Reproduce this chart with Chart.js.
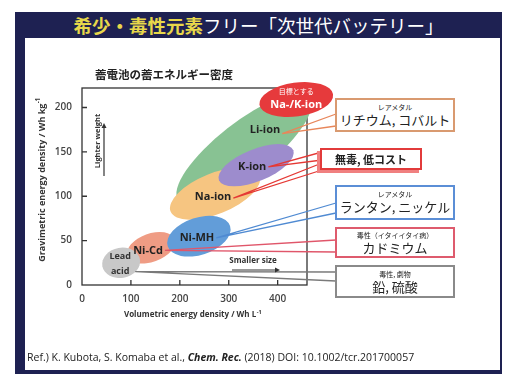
<!DOCTYPE html>
<html>
<head>
<meta charset="utf-8">
<script src="https://cdn.jsdelivr.net/npm/chart.js@4"></script>
<style>
  body { margin: 0; width: 506px; height: 374px; background: #fff; position: relative; overflow: hidden;
         font-family: "Open Sans", "Noto Sans CJK JP", sans-serif; }
  #frame { position: absolute; left: 15px; top: 12px; width: 487px; height: 362px; background: #1e2152; }
  #title { position: absolute; left: 15px; top: 12px; width: 487px; height: 26px; line-height: 26px;
           text-align: center; color: #fff; font-family: "Noto Sans CJK JP", sans-serif; font-size: 18.5px; }
  #title .hl { color: #e8d84a; font-weight: bold; }
  #panel { position: absolute; left: 25px; top: 38px; width: 475px; height: 332px; background: #fff; }
  #c { position: absolute; left: 0; top: 0; }
  .box { position: absolute; box-sizing: border-box; background: #fff; border: 2px solid #888; white-space: nowrap;
         text-align: center; font-family: "Noto Sans CJK JP", sans-serif; color: #222; }
  .box .s { font-size: 7px; line-height: 9px; margin-top: 3px; }
  .box .l { font-size: 13px; line-height: 16px; }
  #ref { position: absolute; left: 2px; top: 313px; font-size: 10.5px; line-height: 12px; color: #222; white-space: nowrap; }
</style>
</head>
<body>
<div id="frame"></div>
<div id="title"><span class="hl">希少・毒性元素</span>フリー「次世代バッテリー」</div>
<div id="panel">
  <canvas id="c" width="475" height="332"></canvas>
  <div class="box" style="left:310px;top:60px;width:120px;height:34px;border-color:#d99a70">
    <div class="s">レアメタル</div><div class="l">リチウム, コバルト</div></div>
  <div class="box" style="left:295px;top:110px;width:102px;height:22px;border-color:#e23b3b;box-shadow:-3px 3px 0 #f08080">
    <div class="l" style="font-size:11px;line-height:18px;font-weight:bold">無毒, 低コスト</div></div>
  <div class="box" style="left:310px;top:147px;width:120px;height:35px;border-color:#5b8ed6">
    <div class="s">レアメタル</div><div class="l">ランタン, ニッケル</div></div>
  <div class="box" style="left:310px;top:189px;width:120px;height:31px;border-color:#de5b6d">
    <div class="s" style="margin-top:2px">毒性（イタイイタイ病）</div><div class="l">カドミウム</div></div>
  <div class="box" style="left:310px;top:227px;width:120px;height:33px;border-color:#8a8a8a">
    <div class="s">毒性, 劇物</div><div class="l">鉛, 硫酸</div></div>
  <div id="ref">Ref.) K. Kubota, S. Komaba et al., <b><i>Chem. Rec.</i></b> (2018) DOI: 10.1002/tcr.201700057</div>
</div>
<script>
// battery types, centre of each region and its spread (Wh/L, Wh/kg)
const batteries = ['Lead acid', 'Ni-Cd', 'Ni-MH', 'Na-ion', 'Li-ion', 'K-ion', 'Na-/K-ion'];
const volCenter = [80, 141, 239, 272, 331, 356, 438];
const gravCenter = [25, 42, 55, 103, 153, 135, 209];
const volSpread = [39, 51, 67, 98, 170, 82, 76];
const gravSpread = [17, 16, 21, 23, 30, 18, 19];
// where the name sits inside each region
const labelVol = [78, 135, 235, 268, 374, 348, 438];
const labelGrav = [24, 39, 53, 99, 175, 133, 209];
const xTicks = [0, 100, 200, 300, 400];
const yTicks = [0, 50, 100, 150, 200];

// styles
const fills = ['#c8c8c8', '#ef9c84', '#629dd9', '#f6c581', '#88c293', '#9d8ccd', '#e63a3c'];
const tilts = [-10, -20, -18, -22, -38, -22, -8];
const drawOrder = [4, 3, 5, 1, 0, 2, 6];

// leader lines to the callout boxes (canvas px)
const leaders = [
  { i: 4, color: '#e8865a', dy: 4, ends: [[311, 76], [311, 88]] },
  { i: 5, color: '#e53935', dy: 0, ends: [[297, 114], [297, 122]] },
  { i: 3, color: '#e53935', dy: 1, ends: [[297, 125], [297, 132]] },
  { i: 2, color: '#4f8ad2', dy: 0, ends: [[311, 165], [311, 175]] },
  { i: 1, color: '#e0566a', dy: 0, ends: [[311, 202], [311, 214]] },
  { i: 0, color: '#7a7a7a', dy: 8, ends: [[311, 234], [311, 243]] }
];

const batteryPlugin = {
  id: 'batteries',
  beforeDatasetsDraw(chart) {
    const { ctx, chartArea: a, scales: { x, y } } = chart;
    ctx.save();

    // plot frame + inward ticks
    ctx.strokeStyle = '#333';
    ctx.lineWidth = 1.3;
    ctx.strokeRect(a.left, a.top, a.right - a.left, a.bottom - a.top);
    ctx.beginPath();
    xTicks.slice(1).forEach(v => {
      const px = x.getPixelForValue(v);
      ctx.moveTo(px, a.bottom); ctx.lineTo(px, a.bottom - 5);
    });
    yTicks.slice(1).forEach(v => {
      const py = y.getPixelForValue(v);
      ctx.moveTo(a.left, py); ctx.lineTo(a.left + 5, py);
    });
    ctx.stroke();

    // regions
    drawOrder.forEach(i => {
      const cx = x.getPixelForValue(volCenter[i]);
      const cy = y.getPixelForValue(gravCenter[i]);
      const rx = Math.abs(x.getPixelForValue(volCenter[i] + volSpread[i]) - cx);
      const ry = Math.abs(y.getPixelForValue(gravCenter[i] + gravSpread[i]) - cy);
      ctx.beginPath();
      ctx.ellipse(cx, cy, rx, ry, tilts[i] * Math.PI / 180, 0, Math.PI * 2);
      ctx.fillStyle = fills[i];
      ctx.fill();
    });

    // leader lines
    ctx.font = 'bold 11px "Open Sans", sans-serif';
    leaders.forEach(l => {
      const name = l.i === 0 ? 'Lead' : batteries[l.i];
      const lx = x.getPixelForValue(labelVol[l.i]) + ctx.measureText(name).width / 2 + 2;
      const ly = y.getPixelForValue(labelGrav[l.i]) + l.dy;
      ctx.strokeStyle = l.color;
      ctx.lineWidth = 1.3;
      ctx.beginPath();
      l.ends.forEach(e => { ctx.moveTo(lx, ly); ctx.lineTo(e[0], e[1]); });
      ctx.stroke();
    });

    // region names
    ctx.textAlign = 'center';
    ctx.textBaseline = 'middle';
    batteries.forEach((name, i) => {
      const px = x.getPixelForValue(labelVol[i]);
      const py = y.getPixelForValue(labelGrav[i]);
      if (i === 0) {
        ctx.fillStyle = '#333';
        ctx.font = 'bold 9px "Open Sans", sans-serif';
        ctx.fillText('Lead', px, py - 7);
        ctx.fillText('acid', px, py + 8);
      } else if (i === 6) {
        ctx.fillStyle = '#fff';
        ctx.font = '7px "Noto Sans CJK JP", sans-serif';
        ctx.fillText('目標とする', px, py - 8);
        ctx.font = 'bold 11px "Open Sans", sans-serif';
        ctx.fillText(name, px, py + 5);
      } else {
        ctx.fillStyle = '#222';
        ctx.font = 'bold 11px "Open Sans", sans-serif';
        ctx.fillText(name, px, py);
      }
    });

    // "Lighter weight" arrow
    ctx.strokeStyle = '#333';
    ctx.fillStyle = '#333';
    ctx.lineWidth = 1.2;
    ctx.beginPath();
    ctx.moveTo(79, 138); ctx.lineTo(79, 88);
    ctx.stroke();
    ctx.beginPath();
    ctx.moveTo(79, 85); ctx.lineTo(76.5, 90); ctx.lineTo(81.5, 90); ctx.closePath();
    ctx.fill();
    ctx.save();
    ctx.translate(73, 103);
    ctx.rotate(-Math.PI / 2);
    ctx.font = 'bold 7.5px "Open Sans", sans-serif';
    ctx.fillText('Lighter weight', 0, 0);
    ctx.restore();

    // "Smaller size" arrow
    ctx.beginPath();
    ctx.moveTo(207, 232); ctx.lineTo(251, 232);
    ctx.stroke();
    ctx.beginPath();
    ctx.moveTo(255, 232); ctx.lineTo(250, 229.5); ctx.lineTo(250, 234.5); ctx.closePath();
    ctx.fill();
    ctx.font = 'bold 8px "Open Sans", sans-serif';
    ctx.fillText('Smaller size', 228, 223);

    ctx.restore();
  },
  afterDraw(chart) {
    const { ctx, chartArea: a } = chart;
    ctx.save();
    ctx.fillStyle = '#222';
    ctx.textAlign = 'left';
    ctx.textBaseline = 'middle';
    ctx.font = 'bold 11.5px "Noto Sans CJK JP", sans-serif';
    ctx.fillText('蓄電池の蓄エネルギー密度', 70, 37);

    // axis titles with superscript
    ctx.fillStyle = '#333';
    const sup = (main, s, cx, cy, size) => {
      const small = size * 0.68;
      ctx.font = `bold ${size}px "Open Sans", sans-serif`;
      const w1 = ctx.measureText(main).width;
      ctx.font = `bold ${small}px "Open Sans", sans-serif`;
      const w2 = ctx.measureText(s).width;
      const start = cx - (w1 + w2) / 2;
      ctx.font = `bold ${size}px "Open Sans", sans-serif`;
      ctx.fillText(main, start, cy);
      ctx.font = `bold ${small}px "Open Sans", sans-serif`;
      ctx.fillText(s, start + w1 + 0.5, cy - size * 0.38);
    };
    sup('Volumetric energy density / Wh L', '-1', (a.left + a.right) / 2 - 2, 277, 8);
    ctx.save();
    ctx.translate(17, 142);
    ctx.rotate(-Math.PI / 2);
    sup('Gravimetric energy density / Wh kg', '-1', 0, 0, 9);
    ctx.restore();
    ctx.restore();
  }
};

new Chart(document.getElementById('c'), {
  type: 'scatter',
  data: {
    datasets: [{
      label: 'Energy density',
      data: batteries.map((b, i) => ({ x: volCenter[i], y: gravCenter[i] })),
      pointRadius: 0,
      pointHoverRadius: 0
    }]
  },
  options: {
    responsive: false,
    devicePixelRatio: 1,
    animation: false,
    layout: { padding: { left: 0, top: 50, right: 193, bottom: 0 } },
    plugins: { legend: { display: false }, tooltip: { enabled: false } },
    scales: {
      x: {
        min: 0, max: 460,
        afterBuildTicks: axis => { axis.ticks = xTicks.map(v => ({ value: v })); },
        afterFit: axis => { axis.height = 85; },
        grid: { display: false, drawTicks: false },
        border: { display: false },
        ticks: { padding: 8, color: '#444', font: { family: 'Open Sans', size: 10, weight: '600' } }
      },
      y: {
        min: 0, max: 222,
        afterBuildTicks: axis => { axis.ticks = yTicks.map(v => ({ value: v })); },
        afterFit: axis => { axis.width = 57; },
        grid: { display: false, drawTicks: false },
        border: { display: false },
        ticks: { padding: 10, color: '#444', font: { family: 'Open Sans', size: 10, weight: '600' } }
      }
    }
  },
  plugins: [batteryPlugin]
});
</script>
</body>
</html>
